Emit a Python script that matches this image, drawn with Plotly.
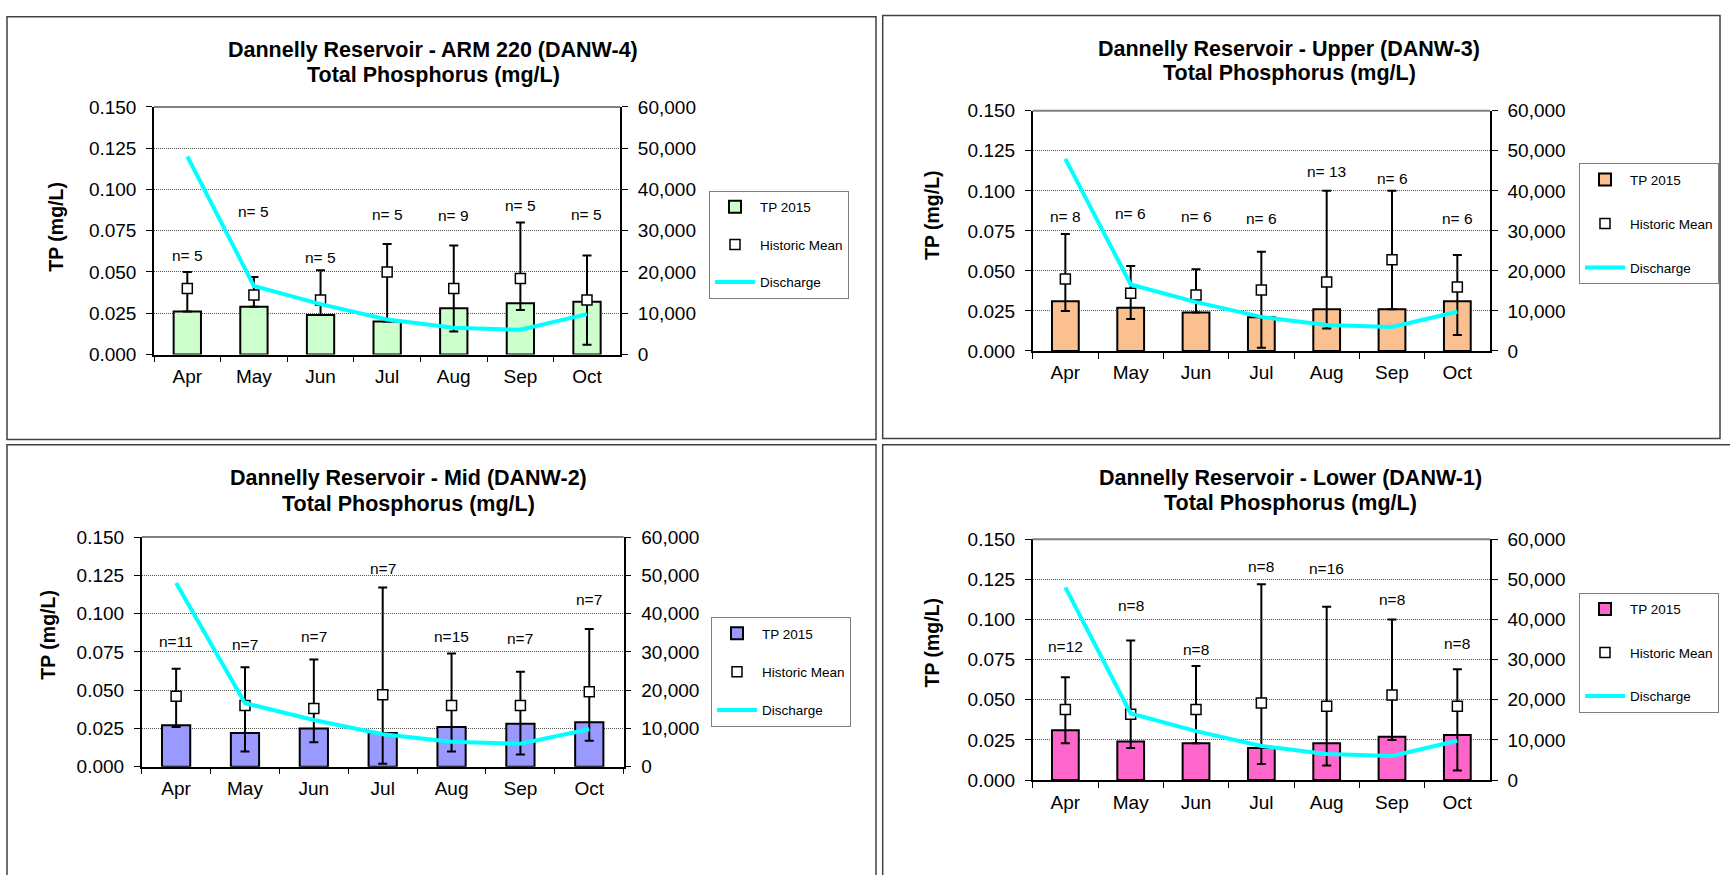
import plotly.graph_objects as go

W, H = 1730, 875

# ---------------- data ----------------
months = ["Apr", "May", "Jun", "Jul", "Aug", "Sep", "Oct"]
discharge = [48000, 16600, 12200, 8500, 6500, 6000, 9800]

# DANW-4 (ARM 220)
tp_danw4 = [0.026, 0.029, 0.024, 0.020, 0.028, 0.031, 0.032]
mean_danw4 = [0.040, 0.036, 0.033, 0.050, 0.040, 0.046, 0.033]
max_danw4 = [0.050, 0.047, 0.051, 0.067, 0.066, 0.080, 0.060]
min_danw4 = [0.026, 0.029, 0.024, 0.020, 0.014, 0.027, 0.006]
n_danw4 = ["n= 5", "n= 5", "n= 5", "n= 5", "n= 9", "n= 5", "n= 5"]
nlab_y_danw4 = [0.060, 0.0865, 0.059, 0.085, 0.084, 0.0905, 0.085]

# DANW-3 (Upper)
tp_danw3 = [0.031, 0.027, 0.024, 0.021, 0.026, 0.026, 0.031]
mean_danw3 = [0.045, 0.036, 0.035, 0.038, 0.043, 0.057, 0.040]
max_danw3 = [0.073, 0.053, 0.051, 0.062, 0.100, 0.100, 0.060]
min_danw3 = [0.025, 0.020, 0.024, 0.002, 0.014, 0.026, 0.010]
n_danw3 = ["n= 8", "n= 6", "n= 6", "n= 6", "n= 13", "n= 6", "n= 6"]
nlab_y_danw3 = [0.084, 0.086, 0.084, 0.083, 0.112, 0.108, 0.083]

# DANW-2 (Mid)
tp_danw2 = [0.027, 0.022, 0.025, 0.022, 0.026, 0.028, 0.029]
mean_danw2 = [0.046, 0.040, 0.038, 0.047, 0.040, 0.040, 0.049]
max_danw2 = [0.064, 0.065, 0.070, 0.117, 0.074, 0.062, 0.090]
min_danw2 = [0.026, 0.010, 0.016, 0.002, 0.010, 0.008, 0.017]
n_danw2 = ["n=11", "n=7", "n=7", "n=7", "n=15", "n=7", "n=7"]
nlab_y_danw2 = [0.082, 0.080, 0.085, 0.1295, 0.085, 0.084, 0.109]

# DANW-1 (Lower)
tp_danw1 = [0.031, 0.024, 0.023, 0.020, 0.023, 0.027, 0.028]
mean_danw1 = [0.044, 0.041, 0.044, 0.048, 0.046, 0.053, 0.046]
max_danw1 = [0.064, 0.087, 0.071, 0.122, 0.108, 0.100, 0.069]
min_danw1 = [0.023, 0.020, 0.023, 0.010, 0.009, 0.025, 0.006]
n_danw1 = ["n=12", "n=8", "n=8", "n=8", "n=16", "n=8", "n=8"]
nlab_y_danw1 = [0.0835, 0.109, 0.0815, 0.133, 0.132, 0.1125, 0.085]

titles = [
    "Dannelly Reservoir - ARM 220 (DANW-4)",
    "Dannelly Reservoir - Upper (DANW-3)",
    "Dannelly Reservoir - Mid (DANW-2)",
    "Dannelly Reservoir - Lower (DANW-1)",
]
subtitle = "Total Phosphorus (mg/L)"
y_title = "TP (mg/L)"
left_ticks = [0.0, 0.025, 0.05, 0.075, 0.1, 0.125, 0.15]
right_ticks = [0, 10000, 20000, 30000, 40000, 50000, 60000]

# ---------------- styling / layout (pixels) ----------------
FONT = "Arial, 'Liberation Sans', sans-serif"
bar_colors = ["#CCFFCC", "#FAC090", "#9999FF", "#FF66CC"]

# plot boxes: (left, top, right, bottom) in px
plot_boxes = [
    (154, 99.3, 620.3, 353),
    (1032.7, 103.3, 1490, 349.3),
    (141.7, 540, 623.7, 775.3),
    (1032.7, 542.3, 1490, 789),
]
title_pos = [(433, 41, 67), (1289, 40, 65), (408, 480, 506), (1290, 480, 505)]
ytitle_pos = [(56, 222), (932, 210), (48, 640), (932, 648)]
legend_pos = [(709, 185, 37.5), (1579, 157, 44), (711, 622, 38.3), (1579, 597, 43.5)]
panel_boxes = [(7, 7, 876, 440), (882.7, 5.7, 1720, 439), (7, 445.5, 876, 900), (882.7, 445.5, 1760, 900)]

stations = [
    (tp_danw4, mean_danw4, max_danw4, min_danw4, n_danw4, nlab_y_danw4),
    (tp_danw3, mean_danw3, max_danw3, min_danw3, n_danw3, nlab_y_danw3),
    (tp_danw2, mean_danw2, max_danw2, min_danw2, n_danw2, nlab_y_danw2),
    (tp_danw1, mean_danw1, max_danw1, min_danw1, n_danw1, nlab_y_danw1),
]


def fx(px):
    return px / W


def fy(py):
    return 1 - py / H


fig = go.Figure()
layout = dict(
    width=W, height=H,
    margin=dict(l=0, r=0, t=0, b=0),
    paper_bgcolor="white", plot_bgcolor="white",
    font=dict(family=FONT, color="black"),
    showlegend=True,
)
annotations = []
shapes = []

for i, (st, box) in enumerate(zip(stations, plot_boxes)):
    tp, mean, mx, mn, nlab, nly = st
    k = i + 1
    xname = "x" if k == 1 else f"x{k}"
    yl_idx = 2 * k - 1
    yr_idx = 2 * k
    ylname = "y" if yl_idx == 1 else f"y{yl_idx}"
    yrname = f"y{yr_idx}"
    xkey = "xaxis" if k == 1 else f"xaxis{k}"
    ylkey = "yaxis" if yl_idx == 1 else f"yaxis{yl_idx}"
    yrkey = f"yaxis{yr_idx}"
    lgname = "legend" if k == 1 else f"legend{k}"

    l, t, r, b = box
    layout[xkey] = dict(
        domain=[fx(l), fx(r)], anchor=ylname, type="category",
        categoryorder="array", categoryarray=months, range=[-0.5, 6.5],
        showline=True, linecolor="black", linewidth=1.5,
        ticks="outside", ticklen=6, tickcolor="black", tickwidth=1,
        tickson="boundaries", showgrid=False, zeroline=False,
        tickfont=dict(size=19, family=FONT, color="black"),
        ticklabelstandoff=4,
    )
    layout[ylkey] = dict(
        domain=[fy(b), fy(t)], anchor=xname, range=[0, 0.15],
        tickvals=left_ticks, tickformat=".3f",
        showline=True, linecolor="black", linewidth=1.5,
        ticks="outside", ticklen=6, tickcolor="black", tickwidth=1,
        showgrid=True, gridcolor="#555555", gridwidth=1, griddash="1px,1px",
        zeroline=False,
        tickfont=dict(size=19, family=FONT, color="black"),
        ticklabelstandoff=6,
    )
    layout[yrkey] = dict(
        domain=[fy(b), fy(t)], anchor=xname, overlaying=ylname, side="right",
        range=[0, 60000], tickvals=right_ticks, tickformat=",d",
        showline=True, linecolor="black", linewidth=1.5,
        ticks="outside", ticklen=6, tickcolor="black", tickwidth=1,
        showgrid=False, zeroline=False,
        tickfont=dict(size=19, family=FONT, color="black"),
        ticklabelstandoff=6,
    )

    fig.add_trace(go.Bar(
        x=months, y=tp, name="TP 2015", xaxis=xname, yaxis=ylname,
        marker=dict(color=bar_colors[i], line=dict(color="black", width=2)),
        width=0.41, legend=lgname, legendgroup=f"p{k}a", legendrank=1,
    ))
    fig.add_trace(go.Scatter(
        x=months, y=mean, name="Historic Mean", mode="markers",
        xaxis=xname, yaxis=ylname,
        marker=dict(symbol="square", size=10, color="white",
                    line=dict(color="black", width=1.5)),
        error_y=dict(type="data", symmetric=False,
                     array=[a - m for a, m in zip(mx, mean)],
                     arrayminus=[m - a for a, m in zip(mn, mean)],
                     color="black", thickness=2, width=4.5),
        legend=lgname, legendgroup=f"p{k}b", legendrank=2,
    ))
    fig.add_trace(go.Scatter(
        x=months, y=discharge, name="Discharge", mode="lines",
        xaxis=xname, yaxis=yrname,
        line=dict(color="#00FFFF", width=4),
        legend=lgname, legendgroup=f"p{k}c", legendrank=3,
    ))

    for m, txt, yv in zip(months, nlab, nly):
        annotations.append(dict(
            x=m, y=yv, xref=xname, yref=ylname, text=txt, showarrow=False,
            font=dict(size=15.5, family=FONT, color="black"),
            xanchor="center", yanchor="middle",
        ))

    tx, ty1, ty2 = title_pos[i]
    annotations.append(dict(
        x=fx(tx), y=fy(ty1), xref="paper", yref="paper", text=f"<b>{titles[i]}</b>",
        showarrow=False, font=dict(size=21.5, family=FONT, color="black"),
        xanchor="center", yanchor="middle",
    ))
    annotations.append(dict(
        x=fx(tx), y=fy(ty2), xref="paper", yref="paper", text=f"<b>{subtitle}</b>",
        showarrow=False, font=dict(size=21.5, family=FONT, color="black"),
        xanchor="center", yanchor="middle",
    ))
    yx, yy = ytitle_pos[i]
    annotations.append(dict(
        x=fx(yx), y=fy(yy), xref="paper", yref="paper", text=f"<b>{y_title}</b>",
        showarrow=False, textangle=-90, font=dict(size=19.5, family=FONT, color="black"),
        xanchor="center", yanchor="middle",
    ))

    # plot-area top border (gray)
    shapes.append(dict(
        type="line", xref=f"{xname} domain", yref=f"{ylname} domain",
        x0=0, x1=1, y0=1, y1=1, line=dict(color="#808080", width=2),
    ))

    lx, ly, spacing = legend_pos[i]
    layout[lgname] = dict(
        x=fx(lx), y=fy(ly), xanchor="left", yanchor="top",
        bgcolor="white", bordercolor="#808080", borderwidth=1,
        font=dict(size=13.5, family=FONT, color="black"),
        itemwidth=40, tracegroupgap=max(spacing - 20.5, 0),
        traceorder="grouped",
    )

    px0, py0, px1, py1 = panel_boxes[i]
    shapes.append(dict(
        type="rect", xref="paper", yref="paper",
        x0=fx(px0), x1=fx(px1), y0=fy(py1), y1=fy(py0),
        line=dict(color="#404040", width=1.5), fillcolor="rgba(0,0,0,0)",
        layer="below",
    ))

layout["annotations"] = annotations
layout["shapes"] = shapes
fig.update_layout(**layout)

fig.write_html("out.html", config={"displayModeBar": False},
               post_script="document.body.style.margin='0';")
